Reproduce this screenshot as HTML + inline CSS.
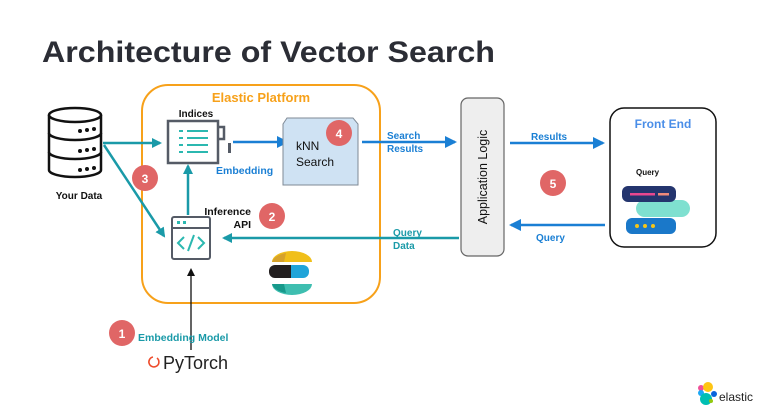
<!DOCTYPE html>
<html><head><meta charset="utf-8"><style>
html,body{margin:0;padding:0;background:#fff;}
svg{display:block;font-family:"Liberation Sans",Arial,sans-serif;}
</style></head><body>
<svg width="772" height="418" viewBox="0 0 772 418" xmlns="http://www.w3.org/2000/svg">
<defs>
<marker id="at" markerWidth="10" markerHeight="10" refX="8" refY="5" orient="auto" markerUnits="userSpaceOnUse"><path d="M0,0 L10,5 L0,10 z" fill="#1a9aa8"/></marker>
<marker id="ab" markerWidth="12" markerHeight="12" refX="10" refY="6" orient="auto" markerUnits="userSpaceOnUse"><path d="M0,0 L12,6 L0,12 z" fill="#1a7fd4"/></marker>
<marker id="ak" markerWidth="8" markerHeight="8" refX="6" refY="4" orient="auto" markerUnits="userSpaceOnUse"><path d="M0,0 L8,4 L0,8 z" fill="#111"/></marker>
</defs>
<rect width="772" height="418" fill="#fff"/>
<text x="42" y="62" font-size="30" font-weight="bold" fill="#2b2d35" textLength="453" lengthAdjust="spacingAndGlyphs">Architecture of Vector Search</text>

<!-- Elastic platform -->
<rect x="142" y="85" width="238" height="218" rx="26" fill="none" stroke="#f7a11a" stroke-width="2"/>
<text x="261" y="102" font-size="13" font-weight="bold" fill="#f7a11a" text-anchor="middle">Elastic Platform</text>

<!-- DB -->
<g stroke="#111" stroke-width="2.5" fill="#fff">
<path d="M49,115 v55 a26,7 0 0 0 52,0 v-55"/>
<ellipse cx="75" cy="115" rx="26" ry="7"/>
<path d="M49,133 a26,7 0 0 0 52,0 M49,152 a26,7 0 0 0 52,0"/>
</g>
<g fill="#111"><circle cx="80" cy="131" r="2"/><circle cx="87" cy="130" r="2"/><circle cx="94" cy="129" r="2"/>
<circle cx="80" cy="151" r="2"/><circle cx="87" cy="150" r="2"/><circle cx="94" cy="149" r="2"/>
<circle cx="80" cy="170" r="2"/><circle cx="87" cy="169" r="2"/><circle cx="94" cy="168" r="2"/></g>
<text x="79" y="199" font-size="10" font-weight="bold" fill="#111" text-anchor="middle">Your Data</text>

<!-- indices -->
<text x="196" y="117" font-size="10" font-weight="bold" fill="#111" text-anchor="middle">Indices</text>
<path d="M168,121 h50 v42 h-50 z" fill="#fff" stroke="#555b66" stroke-width="2.5"/>
<path d="M218,127 h6 v12 h-6" fill="none" stroke="#555b66" stroke-width="2.5"/>
<rect x="228" y="143" width="3" height="10" fill="#555b66"/>
<g stroke="#2bb8b0" stroke-width="2"><path d="M179,131 h4 M187,131 h21 M179,138 h4 M187,138 h21 M179,145 h4 M187,145 h21 M179,152 h4 M187,152 h21"/></g>

<!-- arrows data -->
<line x1="103" y1="143" x2="160" y2="143" stroke="#1a9aa8" stroke-width="2.5" marker-end="url(#at)"/>
<line x1="104" y1="145" x2="164" y2="236" stroke="#1a9aa8" stroke-width="2.5" marker-end="url(#at)"/>
<circle cx="145" cy="178" r="13" fill="#e06666"/><text x="145" y="183" font-size="12" font-weight="bold" fill="#fff" text-anchor="middle">3</text>

<!-- embedding arrow -->
<line x1="233" y1="142" x2="287" y2="142" stroke="#1a7fd4" stroke-width="2.5" marker-end="url(#ab)"/>
<text x="216" y="174" font-size="10.5" font-weight="bold" fill="#1a7fd4">Embedding</text>

<!-- kNN -->
<path d="M287,118 h66 l5,6 v61 h-75 v-61 z" fill="#cfe2f3" stroke="#7f8a96" stroke-width="1"/>
<text x="296" y="150" font-size="12" fill="#111">kNN</text>
<text x="296" y="166" font-size="12" fill="#111">Search</text>
<circle cx="339" cy="133" r="13" fill="#e06666"/><text x="339" y="138" font-size="12" font-weight="bold" fill="#fff" text-anchor="middle">4</text>

<!-- inference API -->
<line x1="188" y1="215" x2="188" y2="166" stroke="#1a9aa8" stroke-width="2.5" marker-end="url(#at)"/>
<rect x="172" y="217" width="38" height="42" rx="2" fill="#fff" stroke="#555b66" stroke-width="2"/>
<line x1="172" y1="228" x2="210" y2="228" stroke="#555b66" stroke-width="2"/>
<rect x="177" y="221" width="3" height="3" fill="#2bb8b0"/><rect x="183" y="221" width="3" height="3" fill="#2bb8b0"/>
<path d="M184,237 l-6,6 l6,6 M198,237 l6,6 l-6,6 M194,235 l-6,16" fill="none" stroke="#2bb8b0" stroke-width="2"/>
<text x="251" y="215" font-size="10.5" font-weight="bold" fill="#111" text-anchor="end">Inference</text>
<text x="251" y="228" font-size="10.5" font-weight="bold" fill="#111" text-anchor="end">API</text>
<circle cx="272" cy="216" r="13" fill="#e06666"/><text x="272" y="221" font-size="12" font-weight="bold" fill="#fff" text-anchor="middle">2</text>

<!-- query data arrow -->
<line x1="459" y1="238" x2="224" y2="238" stroke="#1a9aa8" stroke-width="2.5" marker-end="url(#at)"/>
<text x="393" y="236" font-size="10" font-weight="bold" fill="#1a9aa8">Query</text>
<text x="393" y="249" font-size="10" font-weight="bold" fill="#1a9aa8">Data</text>

<!-- elastic logo -->
<path d="M272,262 a20,11 0 0 1 40,0 z" fill="#f0bf1a"/>
<path d="M272,262 a20,11 0 0 1 14,-9 l-2,9 z" fill="#d6a22b"/>
<rect x="269" y="265" width="22" height="13" rx="6" fill="#231f20"/>
<rect x="286" y="265" width="23" height="13" rx="6" fill="#1fa4d9"/>
<rect x="285" y="265" width="6" height="13" fill="#231f20"/>
<path d="M272,284 h40 a20,11 0 0 1 -40,0 z" fill="#3ebeb0"/>
<path d="M272,284 h12 l2,9 a20,11 0 0 1 -14,-9 z" fill="#17998b"/>

<!-- embedding model -->
<line x1="191" y1="350" x2="191" y2="270" stroke="#111" stroke-width="1.3" marker-end="url(#ak)"/>
<circle cx="122" cy="333" r="13" fill="#e06666"/><text x="122" y="338" font-size="12" font-weight="bold" fill="#fff" text-anchor="middle">1</text>
<text x="138" y="341" font-size="10.5" font-weight="bold" fill="#1a9aa8">Embedding Model</text>
<path d="M153,357 a5,5 0 1 0 4,1" fill="none" stroke="#ee4c2c" stroke-width="1.6"/>
<text x="163" y="369" font-size="18" fill="#222">PyTorch</text>

<!-- search results -->
<line x1="362" y1="142" x2="455" y2="142" stroke="#1a7fd4" stroke-width="2.5" marker-end="url(#ab)"/>
<text x="387" y="139" font-size="10" font-weight="bold" fill="#1a7fd4">Search</text>
<text x="387" y="152" font-size="10" font-weight="bold" fill="#1a7fd4">Results</text>

<!-- app logic -->
<rect x="461" y="98" width="43" height="158" rx="7" fill="#eeeeee" stroke="#666" stroke-width="1.2"/>
<text transform="translate(487,177) rotate(-90)" font-size="12.5" fill="#111" text-anchor="middle">Application Logic</text>

<!-- results -->
<line x1="510" y1="143" x2="603" y2="143" stroke="#1a7fd4" stroke-width="2.5" marker-end="url(#ab)"/>
<text x="531" y="140" font-size="10" font-weight="bold" fill="#1a7fd4">Results</text>
<circle cx="553" cy="183" r="13" fill="#e06666"/><text x="553" y="188" font-size="12" font-weight="bold" fill="#fff" text-anchor="middle">5</text>
<line x1="605" y1="225" x2="511" y2="225" stroke="#1a7fd4" stroke-width="2.5" marker-end="url(#ab)"/>
<text x="536" y="241" font-size="10" font-weight="bold" fill="#1a7fd4">Query</text>

<!-- front end -->
<rect x="610" y="108" width="106" height="139" rx="14" fill="#fff" stroke="#111" stroke-width="1.5"/>
<text x="663" y="128" font-size="12" font-weight="bold" fill="#4a8ee8" text-anchor="middle">Front End</text>
<text x="636" y="175" font-size="8" font-weight="bold" fill="#111">Query</text>
<rect x="636" y="200" width="54" height="17" rx="8.5" fill="#7fe0d0"/>
<rect x="622" y="186" width="54" height="16" rx="6" fill="#24356e"/>
<rect x="630" y="193" width="25" height="2.5" fill="#e8478f"/><rect x="658" y="193" width="11" height="2.5" fill="#f08a7a"/>
<rect x="626" y="218" width="50" height="16" rx="6" fill="#1a78c9"/>
<circle cx="637" cy="226" r="2" fill="#f5c518"/><circle cx="645" cy="226" r="2" fill="#f5c518"/><circle cx="653" cy="226" r="2" fill="#f5c518"/>

<!-- elastic bottom logo -->
<circle cx="701" cy="388" r="3" fill="#ef5098"/>
<circle cx="708" cy="387" r="5" fill="#fec514"/>
<circle cx="701" cy="393" r="3" fill="#1ba9f5"/>
<circle cx="706" cy="399" r="6" fill="#00bfb3"/>
<circle cx="714" cy="394" r="3" fill="#0b64dd"/>
<circle cx="711" cy="401" r="2" fill="#93c90e"/>
<text x="719" y="401" font-size="12" fill="#222">elastic</text>
</svg>
</body></html>
